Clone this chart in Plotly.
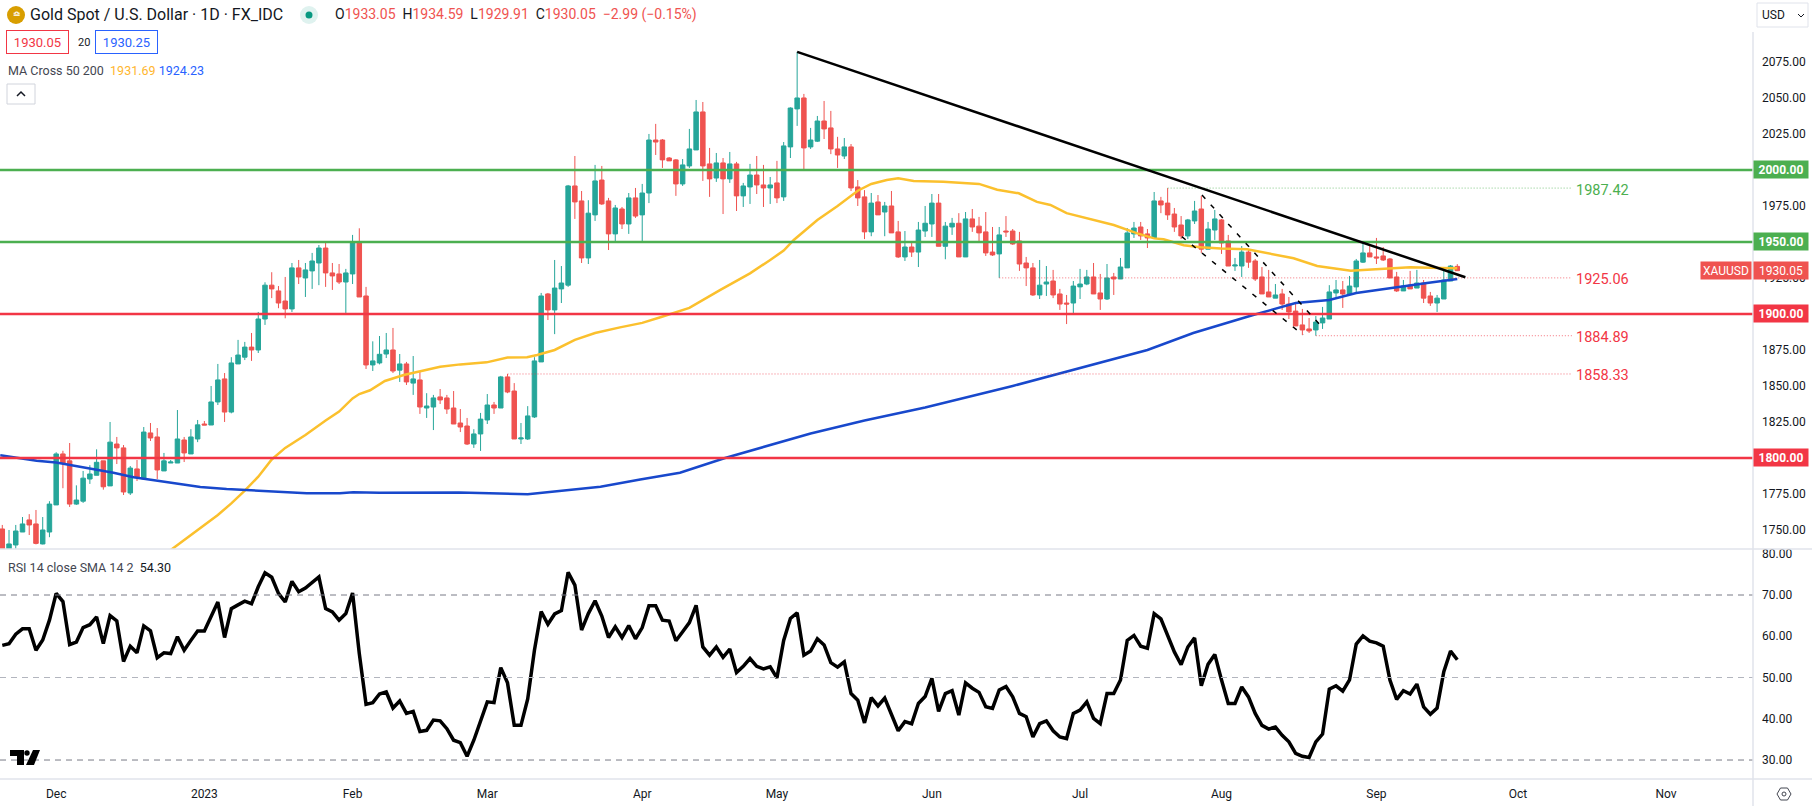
import pandas as pd
import plotly.graph_objects as go
from plotly.subplots import make_subplots

FONT = "Roboto"
UP = "#26a69a"
DOWN = "#ef5350"
RED = "#f23645"
GREEN = "#4caf50"
YELLOW = "#fbc02d"
BLUE = "#1848cc"
BORDER = "#e0e3eb"
TEXT = "#131722"

# Daily candles: open, high, low, close
CANDLES = [
    (1750.7, 1753.5, 1730.0, 1733.0), (1733.0, 1750.0, 1728.0, 1740.3), (1739.6, 1753.5, 1737.0, 1749.3),
    (1748.6, 1759.0, 1748.6, 1754.2), (1757.0, 1761.0, 1746.5, 1753.5), (1754.2, 1763.9, 1740.0, 1740.7),
    (1740.3, 1759.0, 1740.0, 1750.0), (1748.6, 1770.0, 1745.0, 1768.0), (1767.4, 1804.0, 1767.4, 1802.8),
    (1802.8, 1805.0, 1779.0, 1796.5), (1798.0, 1810.4, 1766.0, 1768.0), (1768.0, 1781.0, 1767.4, 1770.8),
    (1770.0, 1791.0, 1768.8, 1786.0), (1785.4, 1795.0, 1782.0, 1788.9), (1788.0, 1806.0, 1788.0, 1797.0),
    (1798.0, 1798.0, 1778.0, 1780.0), (1780.6, 1825.0, 1780.6, 1811.0), (1809.7, 1814.6, 1795.8, 1807.0),
    (1807.0, 1809.0, 1774.3, 1776.4), (1775.7, 1794.4, 1774.3, 1793.0), (1792.4, 1798.6, 1784.0, 1786.8),
    (1785.4, 1821.5, 1784.7, 1818.0), (1817.4, 1824.3, 1811.8, 1813.9), (1814.6, 1820.8, 1785.4, 1791.7),
    (1791.0, 1803.5, 1791.0, 1798.0), (1796.5, 1798.6, 1796.5, 1797.2), (1796.5, 1833.3, 1796.5, 1813.2),
    (1812.5, 1814.6, 1797.2, 1803.5), (1802.8, 1820.0, 1802.8, 1814.6), (1813.2, 1826.4, 1811.0, 1823.0),
    (1823.6, 1825.7, 1822.9, 1822.9), (1822.9, 1850.0, 1822.9, 1838.9), (1838.9, 1865.3, 1836.8, 1854.2),
    (1854.9, 1859.0, 1825.0, 1831.9), (1831.9, 1870.0, 1831.0, 1866.0), (1865.3, 1882.0, 1865.3, 1871.5),
    (1870.0, 1880.6, 1868.0, 1877.0), (1877.0, 1886.8, 1867.4, 1875.0), (1875.0, 1901.4, 1872.9, 1896.5),
    (1896.5, 1922.0, 1892.4, 1920.0), (1920.0, 1929.0, 1911.0, 1917.4), (1916.0, 1919.4, 1904.0, 1907.6),
    (1909.0, 1925.7, 1897.0, 1903.5), (1903.5, 1935.4, 1901.4, 1932.0), (1932.0, 1937.5, 1920.8, 1925.7),
    (1925.0, 1935.4, 1911.8, 1930.6), (1929.9, 1942.4, 1917.4, 1936.8), (1935.4, 1947.9, 1920.0, 1945.8),
    (1945.8, 1949.3, 1918.8, 1928.5), (1928.5, 1935.4, 1916.7, 1926.4), (1927.8, 1934.7, 1920.8, 1922.2),
    (1922.2, 1931.3, 1900.7, 1928.5), (1927.8, 1954.9, 1920.8, 1950.0), (1949.3, 1959.5, 1911.8, 1911.8),
    (1912.5, 1918.8, 1861.8, 1864.6), (1864.6, 1881.0, 1860.4, 1867.4), (1866.0, 1884.7, 1865.0, 1872.0),
    (1872.2, 1886.8, 1869.4, 1875.0), (1875.0, 1890.3, 1859.0, 1860.4), (1861.0, 1872.2, 1852.8, 1865.3),
    (1865.3, 1866.7, 1850.7, 1852.8), (1852.0, 1870.8, 1843.8, 1854.9), (1854.2, 1860.4, 1830.6, 1835.4),
    (1834.7, 1845.0, 1827.8, 1836.1), (1835.4, 1843.8, 1819.4, 1841.7), (1842.4, 1847.9, 1837.5, 1840.3),
    (1841.7, 1843.8, 1830.6, 1834.0), (1834.7, 1846.5, 1823.6, 1823.6), (1824.3, 1834.0, 1818.0, 1821.5),
    (1822.2, 1827.8, 1809.0, 1809.7), (1809.7, 1820.0, 1807.0, 1816.7), (1816.7, 1831.3, 1804.9, 1827.0),
    (1826.4, 1844.4, 1823.6, 1836.8), (1836.8, 1838.9, 1830.6, 1834.7), (1834.7, 1857.0, 1834.7, 1856.3),
    (1856.3, 1858.33, 1845.0, 1845.8), (1846.5, 1852.0, 1813.2, 1813.2), (1813.2, 1824.3, 1809.7, 1813.9),
    (1813.2, 1836.0, 1812.5, 1829.2), (1828.5, 1870.0, 1827.8, 1867.4), (1866.7, 1914.6, 1866.7, 1912.5),
    (1913.9, 1914.6, 1895.8, 1902.8), (1902.8, 1937.5, 1886.0, 1918.0), (1917.4, 1933.3, 1907.6, 1921.5),
    (1920.0, 1989.6, 1918.8, 1988.9), (1988.9, 2009.7, 1966.0, 1977.8), (1978.5, 1985.4, 1935.4, 1938.9),
    (1938.9, 1979.0, 1934.7, 1970.0), (1968.8, 2003.5, 1964.6, 1992.4), (1993.0, 2002.8, 1975.7, 1976.4),
    (1978.5, 1980.6, 1944.4, 1955.6), (1955.6, 1975.7, 1950.0, 1973.6), (1972.9, 1974.3, 1959.0, 1962.5),
    (1962.5, 1984.0, 1955.6, 1980.6), (1980.6, 1987.5, 1966.7, 1968.0), (1968.8, 1990.3, 1950.0, 1984.0),
    (1984.0, 2025.0, 1977.0, 2020.8), (2020.8, 2032.0, 2010.4, 2019.4), (2020.8, 2021.5, 2001.4, 2007.0),
    (2008.3, 2009.0, 2006.3, 2006.3), (2007.0, 2007.6, 1982.0, 1990.3), (1990.3, 2007.6, 1988.9, 2003.5),
    (2002.8, 2028.5, 2001.4, 2014.6), (2013.9, 2048.6, 2013.9, 2040.3), (2040.3, 2047.2, 1992.4, 2002.8),
    (2004.2, 2015.3, 1981.3, 1993.8), (1994.4, 2011.8, 1991.7, 2004.9), (2004.9, 2008.3, 1969.4, 1993.8),
    (1993.8, 2012.5, 1991.0, 2004.2), (2004.2, 2005.6, 1971.5, 1982.0), (1982.0, 1991.0, 1974.3, 1988.9),
    (1988.2, 2004.2, 1976.4, 1996.5), (1996.5, 2009.7, 1983.3, 1989.6), (1989.6, 2003.5, 1974.3, 1987.5),
    (1987.5, 1995.1, 1976.4, 1989.6), (1991.0, 2006.3, 1977.0, 1980.6), (1981.3, 2019.4, 1978.5, 2016.7),
    (2016.0, 2043.5, 2008.3, 2043.0), (2042.4, 2082.0, 2030.6, 2050.0), (2050.0, 2052.8, 2000.0, 2015.3),
    (2016.0, 2029.2, 2014.6, 2020.8), (2020.0, 2037.5, 2019.4, 2034.0), (2034.0, 2047.9, 2021.5, 2028.5),
    (2029.2, 2041.0, 2011.0, 2014.6), (2014.6, 2023.0, 2001.4, 2010.4), (2009.7, 2022.2, 2007.6, 2016.0),
    (2016.0, 2018.0, 1985.4, 1987.5), (1988.2, 1993.0, 1975.0, 1980.6), (1981.3, 1986.0, 1952.0, 1957.0),
    (1957.0, 1984.0, 1954.0, 1977.0), (1977.8, 1982.6, 1968.8, 1968.8), (1970.8, 1977.8, 1954.0, 1975.0),
    (1975.0, 1985.4, 1956.3, 1956.3), (1957.0, 1964.6, 1938.9, 1939.6), (1939.6, 1957.6, 1936.8, 1946.5),
    (1946.5, 1950.0, 1939.6, 1943.0), (1943.0, 1963.9, 1932.6, 1958.3), (1957.6, 1975.0, 1953.5, 1963.0),
    (1962.5, 1983.3, 1953.5, 1977.0), (1977.0, 1983.3, 1947.0, 1947.0), (1947.0, 1963.9, 1938.0, 1961.0),
    (1960.4, 1966.7, 1954.9, 1963.0), (1963.0, 1970.0, 1939.6, 1939.6), (1939.6, 1970.8, 1939.6, 1966.0),
    (1966.0, 1972.9, 1957.0, 1960.4), (1961.0, 1967.4, 1950.0, 1956.3), (1957.0, 1970.8, 1940.3, 1942.4),
    (1943.0, 1960.4, 1940.3, 1941.0), (1941.7, 1960.4, 1925.06, 1954.9), (1957.6, 1968.0, 1953.5, 1957.0),
    (1957.6, 1959.0, 1948.0, 1948.6), (1950.7, 1957.0, 1929.9, 1934.7), (1935.4, 1939.6, 1919.4, 1932.0),
    (1932.0, 1935.4, 1912.5, 1913.2), (1913.2, 1937.5, 1910.4, 1920.0), (1920.8, 1933.3, 1912.5, 1922.2),
    (1922.9, 1930.6, 1911.0, 1913.2), (1913.9, 1917.4, 1902.8, 1906.9), (1907.6, 1913.2, 1893.0, 1906.9),
    (1907.6, 1922.9, 1900.0, 1919.4), (1918.8, 1931.3, 1910.4, 1920.8), (1920.8, 1930.6, 1920.0, 1925.7),
    (1925.7, 1935.4, 1913.9, 1913.9), (1914.6, 1927.8, 1902.8, 1910.4), (1910.4, 1934.7, 1909.7, 1925.0),
    (1925.7, 1928.5, 1913.2, 1924.3), (1924.3, 1938.9, 1924.3, 1932.6), (1932.0, 1959.7, 1932.0, 1956.3),
    (1955.6, 1963.9, 1952.8, 1959.7), (1960.4, 1963.9, 1951.4, 1954.2), (1955.6, 1959.0, 1945.8, 1952.8),
    (1952.8, 1984.7, 1952.8, 1978.5), (1978.5, 1981.3, 1970.0, 1975.7), (1977.0, 1987.42, 1965.3, 1968.8),
    (1969.4, 1973.6, 1957.0, 1960.4), (1961.8, 1968.0, 1952.0, 1954.2), (1954.2, 1966.0, 1952.0, 1965.3),
    (1964.6, 1978.5, 1962.5, 1971.5), (1972.9, 1982.0, 1942.4, 1945.0), (1945.0, 1963.9, 1945.0, 1959.0),
    (1958.3, 1972.2, 1951.4, 1966.0), (1965.3, 1966.0, 1941.7, 1949.3), (1950.7, 1954.9, 1933.3, 1933.3),
    (1933.3, 1938.9, 1929.9, 1934.0), (1933.3, 1947.2, 1925.7, 1943.0), (1943.0, 1945.0, 1932.0, 1936.0),
    (1936.8, 1938.2, 1922.9, 1924.3), (1925.7, 1932.6, 1913.9, 1913.9), (1915.3, 1930.6, 1911.8, 1911.8),
    (1911.0, 1920.8, 1911.0, 1913.2), (1913.9, 1917.4, 1902.8, 1906.9), (1906.9, 1911.8, 1896.5, 1901.4),
    (1902.0, 1907.6, 1891.7, 1891.7), (1892.4, 1903.5, 1885.4, 1888.9), (1889.6, 1897.2, 1886.8, 1888.2),
    (1888.9, 1898.6, 1884.89, 1894.4), (1893.8, 1904.9, 1889.6, 1897.2), (1896.5, 1920.0, 1896.5, 1915.3),
    (1914.6, 1923.6, 1911.8, 1916.7), (1916.7, 1922.9, 1904.2, 1913.9), (1913.9, 1926.4, 1912.5, 1919.4),
    (1918.8, 1938.2, 1914.6, 1936.8), (1936.0, 1950.0, 1935.4, 1942.4), (1942.4, 1947.9, 1939.6, 1939.6),
    (1939.6, 1952.8, 1934.7, 1938.9), (1940.3, 1946.5, 1936.8, 1937.5), (1938.2, 1938.9, 1925.0, 1925.0),
    (1925.7, 1929.2, 1915.3, 1916.0), (1916.0, 1923.6, 1916.0, 1919.4), (1920.1, 1929.9, 1917.4, 1917.4),
    (1918.0, 1930.6, 1918.0, 1921.5), (1921.5, 1923.6, 1907.6, 1911.0), (1912.5, 1915.3, 1905.6, 1907.6),
    (1907.6, 1913.2, 1901.4, 1911.0), (1910.4, 1930.6, 1910.4, 1923.6), (1922.9, 1934.0, 1922.9, 1933.3),
    (1933.05, 1934.59, 1929.91, 1930.05),
]

# Moving averages: bar number and level, read where the line could be read
MA50 = [
    (24, 1732.6), (27, 1743.0), (30, 1753.5), (32, 1760.4), (34, 1768.5), (36, 1777.3), (38, 1787.0),
    (40, 1799.0), (42, 1807.0), (45, 1816.0), (48, 1826.0), (50, 1832.2), (52, 1841.4), (53, 1844.4),
    (54.6, 1847.0), (56.8, 1853.5), (59.6, 1857.6), (65, 1863.4), (68, 1865.0), (71.9, 1866.4),
    (75, 1869.7), (77.9, 1870.0), (79.4, 1871.5), (82, 1875.0), (85, 1882.0), (88, 1886.8),
    (91.7, 1890.7), (95, 1893.8), (97.7, 1897.7), (102, 1904.2), (106.6, 1916.7), (111, 1928.2),
    (114, 1937.5), (116, 1944.0), (117.5, 1951.4), (121, 1965.3), (124, 1975.0), (127, 1985.6),
    (129, 1990.3), (131.3, 1993.0), (133, 1994.2), (135.3, 1992.4), (139.7, 1991.9), (143.2, 1991.0),
    (145, 1990.3), (147.7, 1986.3), (150.9, 1983.8), (153.6, 1977.8), (155.6, 1975.7), (158, 1970.0),
    (162, 1965.3), (165, 1961.8), (168.5, 1956.0), (171, 1952.5), (172.4, 1951.9), (175.4, 1947.7),
    (177.9, 1946.3), (180.9, 1945.4), (184.8, 1944.9), (187.8, 1942.1), (191.7, 1938.7), (195.2, 1933.3),
    (197.7, 1931.7), (200.2, 1930.1), (202, 1930.6), (205.6, 1931.7), (209, 1932.4), (213.5, 1932.0),
    (216, 1931.69),
]
MA200 = [
    (-0.3, 1801.9), (2.1, 1800.0), (5.1, 1798.1), (8, 1796.8), (11, 1794.4), (13.5, 1792.6), (16.5, 1789.8),
    (19.5, 1786.6), (22.9, 1784.3), (26.4, 1782.0), (29.4, 1779.9), (33.3, 1778.5), (37.3, 1777.5),
    (42.2, 1776.2), (45.2, 1775.5), (50.1, 1775.5), (52.1, 1776.2), (56, 1775.9), (67.8, 1776.0),
    (78, 1774.8), (83, 1777.0), (88.8, 1780.0), (94.7, 1785.0), (100.6, 1789.8), (107.3, 1800.0),
    (114, 1808.8), (120, 1817.0), (128, 1826.0), (137, 1835.0), (150, 1850.0), (158.8, 1861.0),
    (170, 1875.0), (176.8, 1886.8), (185.7, 1899.3), (192, 1907.6), (197, 1909.7), (201, 1914.6),
    (207, 1918.8), (211.5, 1921.5), (216, 1924.23),
]

RSI = [
    57.8, 58.2, 60.5, 61.8, 61.8, 56.6, 59.1, 63.9, 70.4, 68.4, 58.0, 58.6, 62.1, 62.8, 64.7, 58.2, 65.0, 63.7,
    53.9, 57.6, 56.0, 62.5, 61.3, 54.8, 56.0, 55.8, 59.9, 56.6, 59.0, 61.3, 61.3, 65.0, 68.3, 59.7, 66.7, 67.6,
    68.5, 67.9, 72.0, 75.4, 74.3, 70.4, 68.3, 73.3, 70.8, 71.7, 73.0, 74.4, 66.7, 65.9, 63.9, 65.5, 70.5, 55.8,
    43.5, 43.9, 46.0, 46.5, 42.6, 44.3, 41.3, 41.8, 36.9, 37.2, 39.7, 39.5, 37.6, 34.8, 34.2, 30.9, 34.8, 39.7,
    44.1, 43.9, 52.4, 48.7, 38.4, 38.4, 44.8, 56.6, 66.0, 62.9, 65.4, 66.2, 75.5, 72.4, 61.5, 65.5, 68.6, 64.9,
    59.7, 62.3, 59.7, 62.6, 59.4, 62.1, 67.4, 67.4, 63.9, 63.7, 58.9, 61.1, 63.3, 67.5, 57.4, 55.4, 57.4, 54.9,
    56.9, 51.2, 52.7, 54.6, 52.7, 52.1, 52.6, 49.9, 59.0, 64.3, 65.7, 55.4, 56.4, 59.4, 57.9, 53.6, 52.5, 53.8,
    46.1, 44.5, 39.0, 45.1, 43.1, 45.0, 40.9, 37.1, 39.3, 38.8, 43.7, 45.4, 49.8, 41.8, 46.1, 46.8, 40.9, 48.7,
    47.4, 46.4, 42.9, 42.5, 47.0, 47.8, 45.3, 41.3, 40.5, 35.6, 38.8, 39.5, 37.1, 35.6, 35.2, 41.3, 42.1, 44.1,
    40.1, 38.8, 46.1, 46.1, 49.4, 59.0, 60.2, 57.6, 57.1, 65.5, 64.2, 60.3, 56.2, 53.1, 57.4, 59.6, 48.0, 53.2,
    55.6, 49.4, 43.7, 43.7, 47.7, 45.3, 41.3, 38.4, 37.5, 38.0, 36.0, 34.4, 31.6, 30.9, 30.6, 34.4, 36.3, 47.2,
    48.0, 46.7, 49.4, 58.1, 60.1, 58.8, 58.4, 57.6, 49.4, 44.7, 46.8, 46.0, 48.4, 42.9, 41.1, 42.6, 51.4, 56.4,
    54.3,
]

# Month labels sit under these bars
MONTHS = {8: "Dec", 30: "2023", 52: "Feb", 72: "Mar", 95: "Apr", 115: "May", 138: "Jun",
          160: "Jul", 181: "Aug", 204: "Sep", 225: "Oct", 247: "Nov"}


def fx(x):
    # window pixel to paper
    return x / 1753


def fy(y):
    return (779 - y) / 747


def put_text(fig, x, y, text, size=13, color=TEXT, **kwargs):
    fig.add_annotation(x=fx(x), y=fy(y), xref="paper", yref="paper", text=text, showarrow=False,
                       xanchor="left", yanchor="middle", font=dict(family=FONT, size=size, color=color), **kwargs)


def put_path(fig, points, color, width=1.5, fill=None):
    path = "M " + " L ".join(f"{fx(x)},{fy(y)}" for x, y in points)
    if fill:
        path += " Z"
    fig.add_shape(type="path", path=path, xref="paper", yref="paper", fillcolor=fill,
                  line=dict(color=color, width=width))


def put_circle(fig, x, y, r, color):
    fig.add_shape(type="circle", xref="paper", yref="paper", x0=fx(x - r), x1=fx(x + r), y0=fy(y + r), y1=fy(y - r),
                  fillcolor=color, line=dict(width=0))


def plot_gold():
    df = pd.DataFrame(CANDLES, columns=["open", "high", "low", "close"])
    df["rsi"] = RSI
    ma50 = pd.DataFrame(MA50, columns=["bar", "value"])
    ma200 = pd.DataFrame(MA200, columns=["bar", "value"])

    # Price pane on top, RSI pane under it
    fig = make_subplots(rows=2, cols=1, shared_xaxes=True, vertical_spacing=0, row_heights=[517, 230])

    # Candles (price pane)
    fig.add_trace(
        go.Candlestick(
            x=df.index,
            open=df["open"],
            high=df["high"],
            low=df["low"],
            close=df["close"],
            increasing=dict(line=dict(color=UP, width=1), fillcolor=UP),
            decreasing=dict(line=dict(color=DOWN, width=1), fillcolor=DOWN),
            name="XAUUSD"
        ),
        row=1, col=1
    )

    # MA cross lines
    fig.add_trace(
        go.Scatter(x=ma50["bar"], y=ma50["value"], name="MA 50", mode="lines", line=dict(color=YELLOW, width=2.5)),
        row=1, col=1
    )
    fig.add_trace(
        go.Scatter(x=ma200["bar"], y=ma200["value"], name="MA 200", mode="lines", line=dict(color=BLUE, width=2.5)),
        row=1, col=1
    )

    # RSI line
    fig.add_trace(
        go.Scatter(x=df.index, y=df["rsi"], name="RSI", mode="lines", line=dict(color="black", width=3.5)),
        row=2, col=1
    )

    # Round number levels with their badge on the axis
    for level, color in [(2000, GREEN), (1950, GREEN), (1900, RED), (1800, RED)]:
        fig.add_hline(y=level, line=dict(color=color, width=2.5), row=1, col=1)
        fig.add_annotation(x=1, y=level, xref="paper", yref="y", text=f"<b>{level:.2f}</b>", showarrow=False,
                           xanchor="left", bgcolor=color, width=52, height=15,
                           font=dict(family=FONT, size=12, color="white"))

    # Dotted swing levels
    for start, level, color in [(173, 1987.42, GREEN), (148, 1925.06, RED), (195, 1884.89, RED), (75, 1858.33, RED)]:
        fig.add_shape(type="line", x0=start, x1=233, y0=level, y1=level, xref="x", yref="y", opacity=0.7,
                      line=dict(color=color, width=1, dash="1px,2px"))
        fig.add_annotation(x=233.3, y=level, xref="x", yref="y", text=f"{level:.2f}", showarrow=False, yshift=-2,
                           xanchor="left", font=dict(family=FONT, size=14.5, color=color))

    # Trendline and falling channel
    fig.add_shape(type="line", x0=118, y0=2082, x1=217.2, y1=1925.5, xref="x", yref="y",
                  line=dict(color="black", width=2.5))
    fig.add_shape(type="line", x0=178.1, y0=1982.6, x1=196.2, y1=1889.4, xref="x", yref="y",
                  line=dict(color="black", width=1.5, dash="5px,8px"))
    fig.add_shape(type="line", x0=175.1, y0=1953.7, x1=193.1, y1=1885.4, xref="x", yref="y",
                  line=dict(color="black", width=1.5, dash="5px,8px"))

    # RSI bands
    for level, color in [(70, "#787b86"), (50, "#b2b5be"), (30, "#787b86")]:
        fig.add_hline(y=level, line=dict(color=color, width=1, dash="6px,5px"), row=2, col=1)

    # Last price labels
    fig.add_annotation(x=1, y=1930.05, xref="paper", yref="y", text="1930.05", showarrow=False, xanchor="left",
                       bgcolor=DOWN, width=52, height=15, font=dict(family=FONT, size=12, color="white"))
    fig.add_annotation(x=1, y=1930.05, xref="paper", yref="y", text="XAUUSD", showarrow=False, xanchor="right",
                       xshift=-1, bgcolor=DOWN, width=48, height=15, font=dict(family=FONT, size=12, color="white"))

    # Pane borders
    for y in (549, 779):
        put_path(fig, [(0, y), (1812, y)], BORDER, 1.5)
    put_path(fig, [(1753, 32), (1753, 806)], BORDER, 1.5)

    # Header
    put_circle(fig, 16, 15, 9, "#d89e00")
    put_text(fig, 11, 14, "<b>≏</b>", size=9, color="white")
    put_text(fig, 28, 15, "Gold Spot / U.S. Dollar · 1D · FX_IDC", size=16)
    put_circle(fig, 309, 15, 9, "#dff2ef")
    put_circle(fig, 309, 15, 3.5, "#089981")
    red = f"<span style='color:{DOWN}'>"
    put_text(fig, 333, 15, f"O{red}1933.05</span>  H{red}1934.59</span>  L{red}1929.91</span>  "
                           f"C{red}1930.05</span>  {red}−2.99 (−0.15%)</span>", size=14)
    put_text(fig, 6, 42, "1930.05", size=13, color=RED, bordercolor=RED, borderwidth=1, width=59, height=20)
    put_text(fig, 76, 42, "20", size=11)
    put_text(fig, 95, 42, "1930.25", size=13, color="#2962ff", bordercolor="#2962ff", borderwidth=1, width=59, height=20)
    put_text(fig, 6, 71, f"MA Cross 50 200  <span style='color:#ffb62e'>1931.69</span> "
                         f"<span style='color:#2962ff'>1924.23</span>", size=12.5, color="#434651")
    put_path(fig, [(7, 84), (35, 84), (35, 104), (7, 104)], "#d1d4dc", 1, fill="white")
    put_path(fig, [(17, 96), (21, 92), (25, 96)], TEXT, 1.5)
    put_text(fig, 6, 567, f"RSI 14 close SMA 14 2  <span style='color:{TEXT}'>54.30</span>", size=12.5, color="#434651")

    # Unit box and settings mark
    put_path(fig, [(1757, 3), (1808, 3), (1808, 27), (1757, 27)], BORDER, 1, fill="white")
    put_text(fig, 1760, 15, "USD", size=12)
    put_path(fig, [(1798, 14), (1801, 17), (1804, 14)], TEXT, 1)
    put_path(fig, [(1777, 794), (1780.5, 788), (1787.5, 788), (1791, 794), (1787.5, 800), (1780.5, 800), (1777, 794)],
             "#434651", 1)
    fig.add_shape(type="circle", xref="paper", yref="paper", x0=fx(1782), x1=fx(1786), y0=fy(796), y1=fy(792),
                  line=dict(color="#434651", width=1))

    # Chart maker's mark
    put_path(fig, [(10, 750), (24, 750), (24, 765), (17, 765), (17, 756), (10, 756)], "black", 0, fill="black")
    put_circle(fig, 27, 753, 2.7, "black")
    put_path(fig, [(33, 750), (40, 750), (34, 765), (26, 765)], "black", 0, fill="black")

    # Layout
    fig.update_layout(
        width=1812,
        height=806,
        margin=dict(l=0, r=59, t=32, b=27),
        paper_bgcolor="white",
        plot_bgcolor="white",
        showlegend=False,
        boxgap=0.05,
        font=dict(family=FONT, size=12, color=TEXT),
        xaxis_rangeslider_visible=False
    )

    fig.update_xaxes(range=[-0.34, 259.9], showgrid=False, zeroline=False, showline=False)
    fig.update_xaxes(tickmode="array", tickvals=list(MONTHS), ticktext=list(MONTHS.values()),
                     ticks="", ticklabelstandoff=6, row=2, col=1)
    fig.update_yaxes(side="right", showgrid=False, zeroline=False, showline=False, ticks="",
                     ticklabelstandoff=8, tickformat=".2f")
    fig.update_yaxes(range=[1736.8, 2095.8], dtick=25, tick0=1750, row=1, col=1)
    fig.update_yaxes(range=[25.4, 81.15], dtick=10, tick0=30, row=2, col=1)

    # Save as HTML
    fig.write_html("out.html", config={"displayModeBar": False}, post_script="document.body.style.margin='0';")

    return fig


if __name__ == "__main__":
    plot_gold()
